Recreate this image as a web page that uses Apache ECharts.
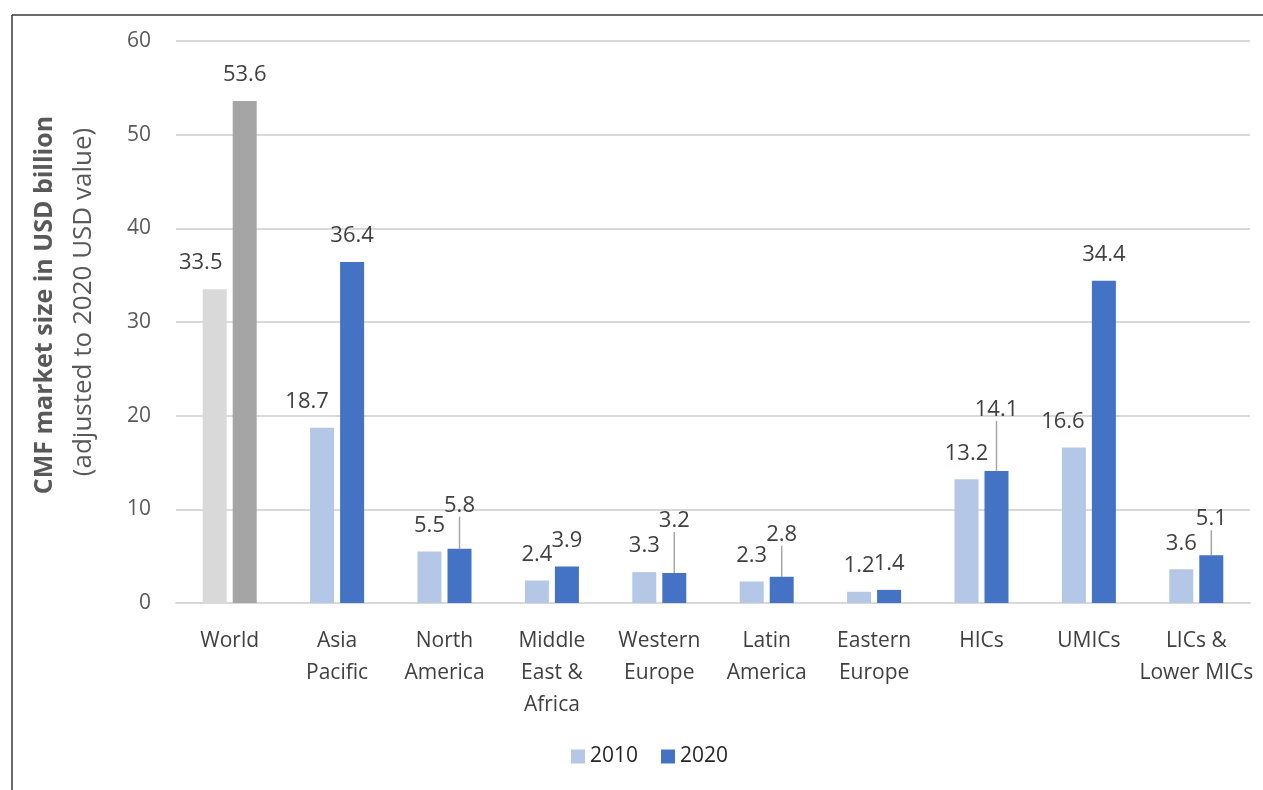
<!DOCTYPE html>
<html><head><meta charset="utf-8">
<script src="https://cdn.jsdelivr.net/npm/echarts@6/dist/echarts.min.js"></script>
<style>html,body{margin:0;padding:0;background:#fff}#c{width:1263px;height:790px}</style>
</head><body><div id="c"></div>
<script>
const categories = ['World','Asia\nPacific','North\nAmerica','Middle\nEast &\nAfrica','Western\nEurope','Latin\nAmerica','Eastern\nEurope','HICs','UMICs','LICs &\nLower MICs'];
const seriesNames = ['2010','2020'];
const values2010 = [33.5, 18.7, 5.5, 2.4, 3.3, 2.3, 1.2, 13.2, 16.6, 3.6];
const values2020 = [53.6, 36.4, 5.8, 3.9, 3.2, 2.8, 1.4, 14.1, 34.4, 5.1];
const yTicks = [0, 10, 20, 30, 40, 50, 60];

const FONT = '"Open Sans", sans-serif';
const colors = { a: '#b4c7e7', b: '#4472c4', wa: '#d9d9d9', wb: '#a5a5a5' };
// label layout tweaks (pixel offsets), keyed by category index
const shift2010 = { 0: -14, 1: -15, 8: -11 };
const lift2020 = { 2: 17, 4: 26, 5: 16, 7: 35, 9: 10 };

function mk(vals, color, worldColor, lifted) {
  return vals.map((v, i) => ({
    value: v,
    itemStyle: { color: i === 0 ? worldColor : color },
    labelLine: { show: !!(lifted && lifted[i]) }
  }));
}

const chart = echarts.init(document.getElementById('c'));
chart.setOption({
  animation: false,
  textStyle: { fontFamily: FONT },
  grid: { left: 176, right: 13, top: 41, bottom: 187 },
  graphic: [
    { type: 'line', shape: { x1: 12, y1: 15, x2: 1263, y2: 15 }, style: { stroke: '#3a3a3a', lineWidth: 1.5 } },
    { type: 'line', shape: { x1: 12, y1: 15, x2: 12, y2: 790 }, style: { stroke: '#3a3a3a', lineWidth: 1.5 } },
    { type: 'text', x: 45, y: 305, rotation: Math.PI / 2,
      style: { text: 'CMF market size in USD billion', font: 'bold 25px ' + FONT, fill: '#595959', align: 'center', verticalAlign: 'middle' } },
    { type: 'text', x: 84, y: 302, rotation: Math.PI / 2,
      style: { text: '(adjusted to 2020 USD value)', font: '26px ' + FONT, fill: '#595959', align: 'center', verticalAlign: 'middle' } }
  ],
  legend: {
    data: seriesNames.map(n => ({ name: n })),
    top: 741, left: 566, itemWidth: 14, itemHeight: 14, itemGap: 23, icon: 'rect',
    textStyle: { fontSize: 21, color: '#262626', fontFamily: FONT, padding: [0, 0, 0, 0] }
  },
  xAxis: {
    type: 'category', data: categories,
    axisTick: { show: false },
    axisLine: { lineStyle: { color: '#d9d9d9', width: 2 } },
    axisLabel: { fontSize: 21, color: '#404040', lineHeight: 32, margin: 22, interval: 0, fontFamily: FONT }
  },
  yAxis: {
    type: 'value', min: 0, max: 60, interval: 10,
    axisLabel: { fontSize: 21, color: '#595959', margin: 25, fontFamily: FONT,
      formatter: v => yTicks.includes(v) ? String(v) : '' },
    splitLine: { lineStyle: { color: '#d9d9d9', width: 2 } },
    axisLine: { show: false }, axisTick: { show: false }
  },
  series: [
    { name: seriesNames[0], type: 'bar', data: mk(values2010, colors.a, colors.wa, null),
      itemStyle: { color: colors.a }, barWidth: 24, barGap: '25%',
      label: { show: true, position: 'top', distance: 15, fontSize: 22, color: '#404040', fontFamily: FONT },
      labelLayout: p => (shift2010[p.dataIndex] ? { dx: shift2010[p.dataIndex] } : {}) },
    { name: seriesNames[1], type: 'bar', data: mk(values2020, colors.b, colors.wb, lift2020),
      itemStyle: { color: colors.b }, barWidth: 24, barGap: '25%',
      label: { show: true, position: 'top', distance: 15, fontSize: 22, color: '#404040', fontFamily: FONT },
      labelLine: { lineStyle: { color: '#a6a6a6', width: 1.5 } },
      labelLayout: p => (lift2020[p.dataIndex] ? { dy: -lift2020[p.dataIndex] } : {}) }
  ]
});
</script></body></html>
